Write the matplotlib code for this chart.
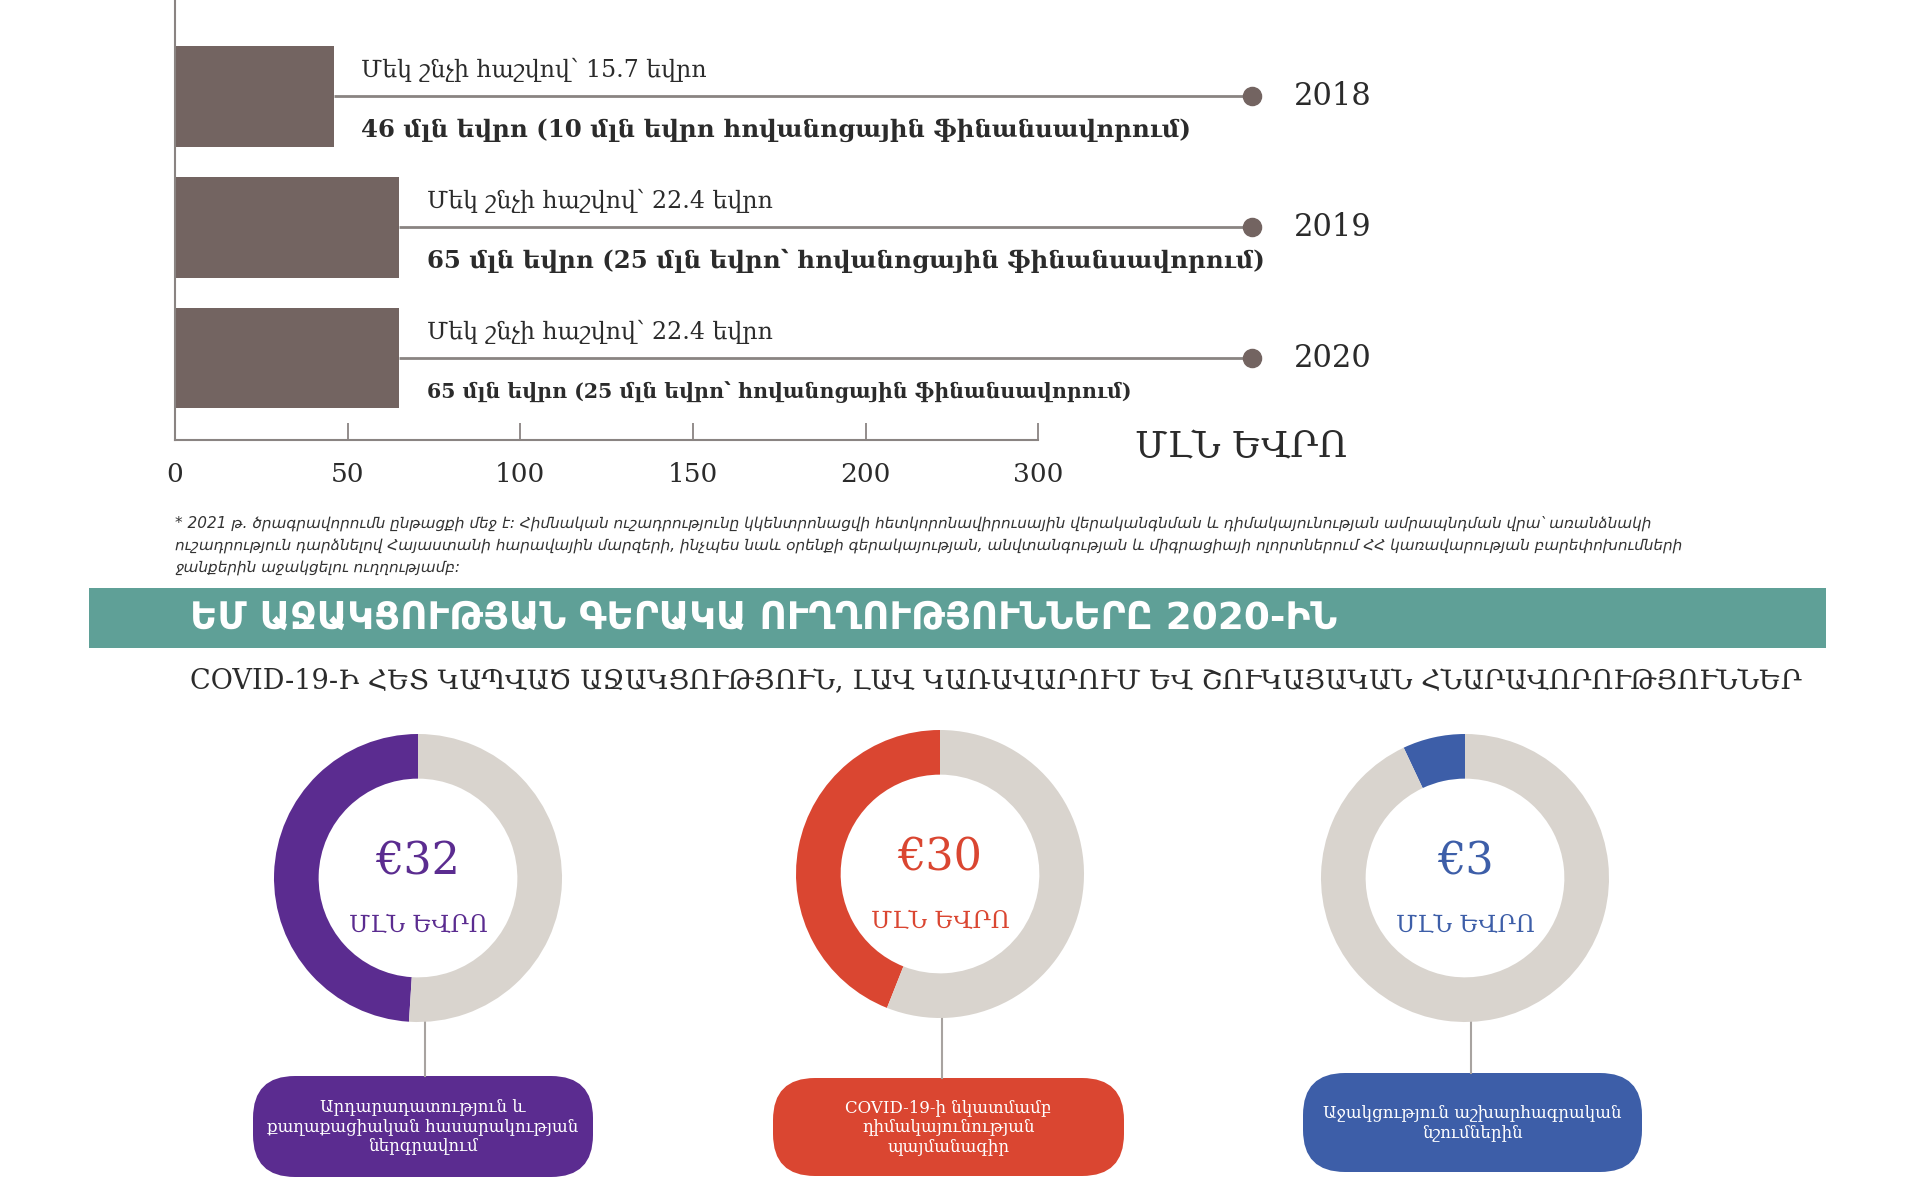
import matplotlib.pyplot as plt
from matplotlib.patches import FancyBboxPatch, Rectangle

# Data
years = ["2018", "2019", "2020"]
totals = [46, 65, 65]
per_capita = ["Մեկ շնչի հաշվով՝ 15.7 եվրո",
              "Մեկ շնչի հաշվով՝ 22.4 եվրո",
              "Մեկ շնչի հաշվով՝ 22.4 եվրո"]
total_labels = ["46 մլն եվրո (10 մլն եվրո հովանոցային ֆինանսավորում)",
                "65 մլն եվրո (25 մլն եվրո՝ հովանոցային ֆինանսավորում)",
                "65 մլն եվրո (25 մլն եվրո՝ հովանոցային ֆինանսավորում)"]
tick_pos = [0, 50, 100, 150, 200, 250]
tick_labels = ["0", "50", "100", "150", "200", "300"]
unit_label = "ՄԼՆ ԵՎՐՈ"

footnote = ("* 2021 թ. ծրագրավորումն ընթացքի մեջ է: Հիմնական ուշադրությունը կկենտրոնացվի հետկորոնավիրուսային վերականգնման և դիմակայունության ամրապնդման վրա՝ առանձնակի\n"
            "ուշադրություն դարձնելով Հայաստանի հարավային մարզերի, ինչպես նաև օրենքի գերակայության, անվտանգության և միգրացիայի ոլորտներում ՀՀ կառավարության բարեփոխումների\n"
            "ջանքերին աջակցելու ուղղությամբ:")
banner_title = "ԵՄ ԱՋԱԿՑՈՒԹՅԱՆ ԳԵՐԱԿԱ ՈՒՂՂՈՒԹՅՈՒՆՆԵՐԸ 2020-ԻՆ"
subtitle = "COVID-19-Ի ՀԵՏ ԿԱՊՎԱԾ ԱՋԱԿՑՈՒԹՅՈՒՆ, ԼԱՎ ԿԱՌԱՎԱՐՈՒՄ ԵՎ ՇՈՒԿԱՅԱԿԱՆ ՀՆԱՐԱՎՈՐՈՒԹՅՈՒՆՆԵՐ"

donut_amounts = ["€32", "€30", "€3"]
donut_shares = [0.49, 0.44, 0.07]
donut_names = ["Արդարադատություն և\nքաղաքացիական հասարակության\nներգրավում",
               "COVID-19-ի նկատմամբ\nդիմակայունության\nպայմանագիր",
               "Աջակցություն աշխարհագրական\nնշումներին"]
donut_colors = ["#5B2C90", "#DA4631", "#3D5EA8"]

# Style
BAR_COLOR = "#736461"
RING_GREY = "#D9D4CE"
LINE_GREY = "#8A8482"
TEXT = "#2B2B2B"
SERIF = ["DejaVu Serif", "DejaVu Sans"]
SANS = ["DejaVu Sans"]
LINE_END = 312

W, H = 1920, 1193
fig = plt.figure(figsize=(W / 100, H / 100), dpi=100)
fig.patch.set_facecolor("white")

# overlay in pixel coords for banner, notes, boxes
ov = fig.add_axes([0, 0, 1, 1], zorder=0)
ov.set_xlim(0, W)
ov.set_ylim(H, 0)
ov.axis("off")

# ---- bar chart ----
ax = fig.add_axes([175 / W, (H - 440) / H, 1243 / W, 440 / H], zorder=2)
ax.patch.set_alpha(0)
ypos = list(range(len(years)))
ax.barh(ypos, totals, height=0.77, color=BAR_COLOR, zorder=2)
ax.hlines(ypos, totals, LINE_END, color=LINE_GREY, lw=2, zorder=1)
ax.scatter([LINE_END] * len(years), ypos, s=170, color=BAR_COLOR, zorder=3, clip_on=False)
for i in ypos:
    ax.text(totals[i] + 8, i - 0.2, per_capita[i], family=SERIF, fontsize=17,
            color=TEXT, va="center", ha="left")
    ax.text(totals[i] + 8, i + 0.26, total_labels[i], family=SERIF,
            fontsize=17.6 if i < 2 else 14.8, fontweight="bold", color=TEXT,
            va="center", ha="left")
    ax.text(324, i, years[i], family=SERIF, fontsize=22, color=TEXT,
            va="center", ha="left")

ax.set_xlim(0, 360)
ax.set_ylim(2.627, -0.738)
ax.set_yticks([])
ax.set_xticks(tick_pos, tick_labels)
ax.tick_params(axis="x", direction="in", length=12, width=1.3, color=LINE_GREY,
               pad=16, labelsize=19, labelcolor=TEXT)
for lab in ax.get_xticklabels():
    lab.set_family(SERIF)
for s in ["top", "right"]:
    ax.spines[s].set_visible(False)
ax.spines["bottom"].set_bounds(0, 250)
for s in ["left", "bottom"]:
    ax.spines[s].set_color(LINE_GREY)
    ax.spines[s].set_linewidth(1.5)
ov.text(1135, 447, unit_label, family=SERIF, fontsize=26, color=TEXT, va="center", ha="left")

# ---- footnote ----
ov.text(175, 516, footnote, family=SANS, style="italic", fontsize=11,
        color="#333333", va="top", ha="left", linespacing=1.55)

# ---- banner ----
ov.add_patch(Rectangle((89, 588), 1737, 60, color="#5FA097", lw=0))
ov.text(190, 619, banner_title, family=SANS, fontweight="bold", fontsize=27,
        color="white", va="center", ha="left")
ov.text(190, 681, subtitle, family=SERIF, fontsize=19.5, color=TEXT,
        va="center", ha="left")

# ---- donuts ----
centers = [(418, 878), (940, 874), (1465, 878)]
R = 144
stem_x = [425, 942, 1471]
boxes = [(253, 1076, 340, 101), (773, 1078, 351, 98), (1303, 1073, 339, 99)]
for k in range(3):
    cx, cy = centers[k]
    half = R * 1.04
    dax = fig.add_axes([(cx - half) / W, (H - cy - half) / H, 2 * half / W, 2 * half / H], zorder=2)
    dax.pie([donut_shares[k], 1 - donut_shares[k]], colors=[donut_colors[k], RING_GREY],
            startangle=90, counterclock=True, radius=1,
            wedgeprops=dict(width=0.31, edgecolor="none"))
    dax.set_xlim(-1.04, 1.04)
    dax.set_ylim(-1.04, 1.04)
    dax.set_aspect("equal")
    dax.text(0, 0.11, donut_amounts[k], family=SERIF, fontsize=32,
             color=donut_colors[k], ha="center", va="center")
    dax.text(0, -0.33, unit_label, family=SERIF, fontsize=17,
             color=donut_colors[k], ha="center", va="center")

    bx, by, bw, bh = boxes[k]
    ov.plot([stem_x[k], stem_x[k]], [cy + R, by], color="#A8A3A0", lw=1.5)
    ov.add_patch(FancyBboxPatch((bx, by), bw, bh,
                                boxstyle="round,pad=0,rounding_size=42",
                                fc=donut_colors[k], ec="none"))
    ov.text(bx + bw / 2, by + bh / 2, donut_names[k], family=SERIF, fontsize=12,
            color="white", ha="center", va="center", linespacing=1.2)

fig.savefig("out.png", dpi=100, facecolor="white")
